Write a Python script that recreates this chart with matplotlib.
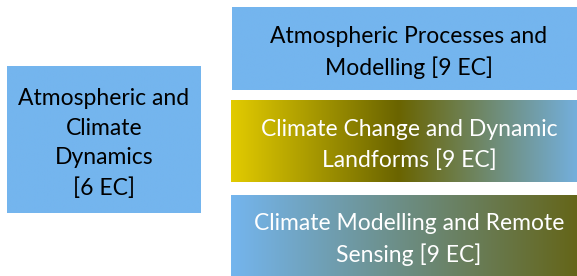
import numpy as np
import matplotlib
matplotlib.use("Agg")
import matplotlib.pyplot as plt
from matplotlib.colors import LinearSegmentedColormap, to_rgb

# Content
labels = [
    "Atmospheric and\nClimate\nDynamics\n[6 EC]",
    "Atmospheric Processes and\nModelling [9 EC]",
    "Climate Change and Dynamic\nLandforms [9 EC]",
    "Climate Modelling and Remote\nSensing [9 EC]",
]
text_colors = ["black", "black", "white", "white"]

BLUE = "#74B5EE"
fills = [
    [(0.0, BLUE), (1.0, BLUE)],
    [(0.0, BLUE), (1.0, BLUE)],
    [(0.0, "#E2CB00"), (0.47, "#6A6400"), (1.0, "#74B3E8")],
    [(0.0, "#74B5EE"), (1.0, "#646313")],
]

# Layout (pixels): x0, x1, y0, y1
boxes = [
    (7, 201, 66, 213),
    (232, 587, 7, 90),
    (231, 587, 100, 182),
    (231, 587, 195, 290),
]

W, H = 577, 276
fig = plt.figure(figsize=(W / 100, H / 100), dpi=100)
ax = fig.add_axes([0, 0, 1, 1])
ax.set_xlim(0, W)
ax.set_ylim(H, 0)
ax.axis("off")

for (x0, x1, y0, y1), stops, lab, tc in zip(boxes, fills, labels, text_colors):
    cmap = LinearSegmentedColormap.from_list("g", [(p, to_rgb(c)) for p, c in stops])
    grad = np.linspace(0, 1, 256)[None, :]
    ax.imshow(grad, cmap=cmap, aspect="auto", extent=(x0, x1, y1, y0),
              interpolation="bilinear", zorder=1)
    if x1 > W:
        cx = 409
    else:
        cx = (x0 + x1) / 2
    cy = (y0 + min(y1, 276)) / 2 + 4
    ax.text(cx, cy, lab, ha="center", va="center",
            fontsize=16.5, family="Lato", color=tc, linespacing=1.5, zorder=2)

ax.set_xlim(0, W)
ax.set_ylim(H, 0)
fig.savefig("out.png", dpi=100)
